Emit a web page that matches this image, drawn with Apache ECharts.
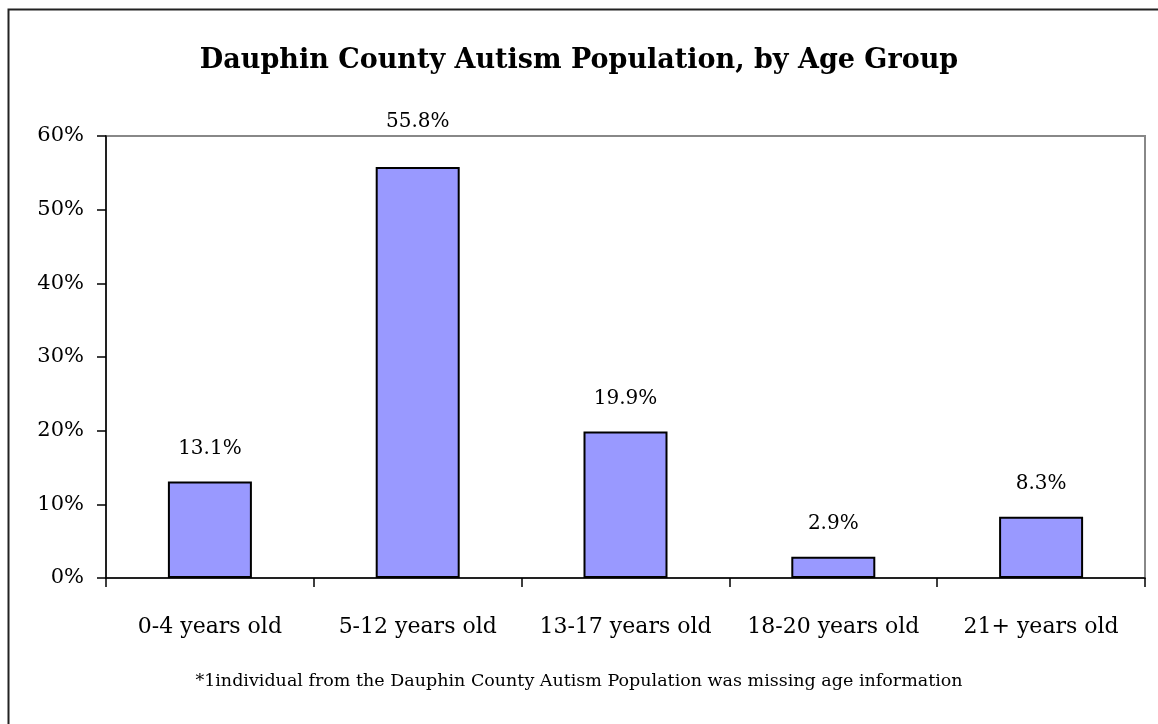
<!DOCTYPE html>
<html>
<head>
<meta charset="UTF-8">
<title>Dauphin County Autism Population</title>
<script src="https://cdn.jsdelivr.net/npm/echarts@6/dist/echarts.min.js"></script>
<style>
  html, body { margin: 0; padding: 0; background: #fff; }
</style>
</head>
<body>
<div id="main" style="width:1158px;height:724px;"></div>
<script>
// data
var ageGroups = ['0-4 years old', '5-12 years old', '13-17 years old', '18-20 years old', '21+ years old'];
var shares = [13.1, 55.8, 19.9, 2.9, 8.3];
var yTicks = [0, 10, 20, 30, 40, 50, 60];

var font = 'DejaVu Serif';
var chart = echarts.init(document.getElementById('main'));

var option = {
  backgroundColor: '#fff',
  animation: false,
  title: {
    text: 'Dauphin County Autism Population, by Age Group',
    left: 'center',
    top: 42,
    textStyle: { fontFamily: font, fontSize: 27, fontWeight: 'bold', color: '#000' }
  },
  grid: {
    left: 106, right: 13, top: 136, bottom: 146,
    show: true, borderColor: '#888', borderWidth: 2
  },
  xAxis: {
    type: 'category',
    data: ageGroups,
    axisLine: { lineStyle: { color: '#000', width: 1.5 } },
    axisTick: { show: true, interval: 0, alignWithLabel: false, length: 9, lineStyle: { color: '#000', width: 1.5 } },
    axisLabel: { interval: 0, fontFamily: font, fontSize: 22, color: '#000', margin: 38 }
  },
  yAxis: {
    type: 'value',
    min: yTicks[0],
    max: yTicks[yTicks.length - 1],
    interval: 10,
    splitLine: { show: false },
    axisLine: { show: true, lineStyle: { color: '#000', width: 1.5 } },
    axisTick: { show: true, length: 9, lineStyle: { color: '#000', width: 1.5 } },
    axisLabel: { fontFamily: font, fontSize: 21, color: '#000', margin: 22, formatter: '{value}%' }
  },
  series: [{
    type: 'bar',
    barWidth: 84,
    data: shares.map(function (v, i) {
      // the tallest label sits a bit higher in the original
      return i === 1 ? { value: v, label: { distance: 35 } } : v;
    }),
    itemStyle: { color: '#9999ff', borderColor: '#000', borderWidth: 2 },
    label: {
      show: true,
      position: 'top',
      distance: 23,
      fontFamily: font,
      fontSize: 20,
      color: '#000',
      formatter: function (p) { return p.value.toFixed(1) + '%'; }
    }
  }],
  graphic: [{
    type: 'rect',
    shape: { x: 8.5, y: 9.5, width: 1200, height: 800 },
    style: { fill: 'none', stroke: '#222', lineWidth: 2 },
    silent: true
  }, {
    type: 'text',
    left: 'center',
    top: 672,
    style: {
      text: '*1individual from the Dauphin County Autism Population was missing age information',
      font: '17.5px "DejaVu Serif"',
      fill: '#000'
    }
  }]
};

chart.setOption(option);
</script>
</body>
</html>
